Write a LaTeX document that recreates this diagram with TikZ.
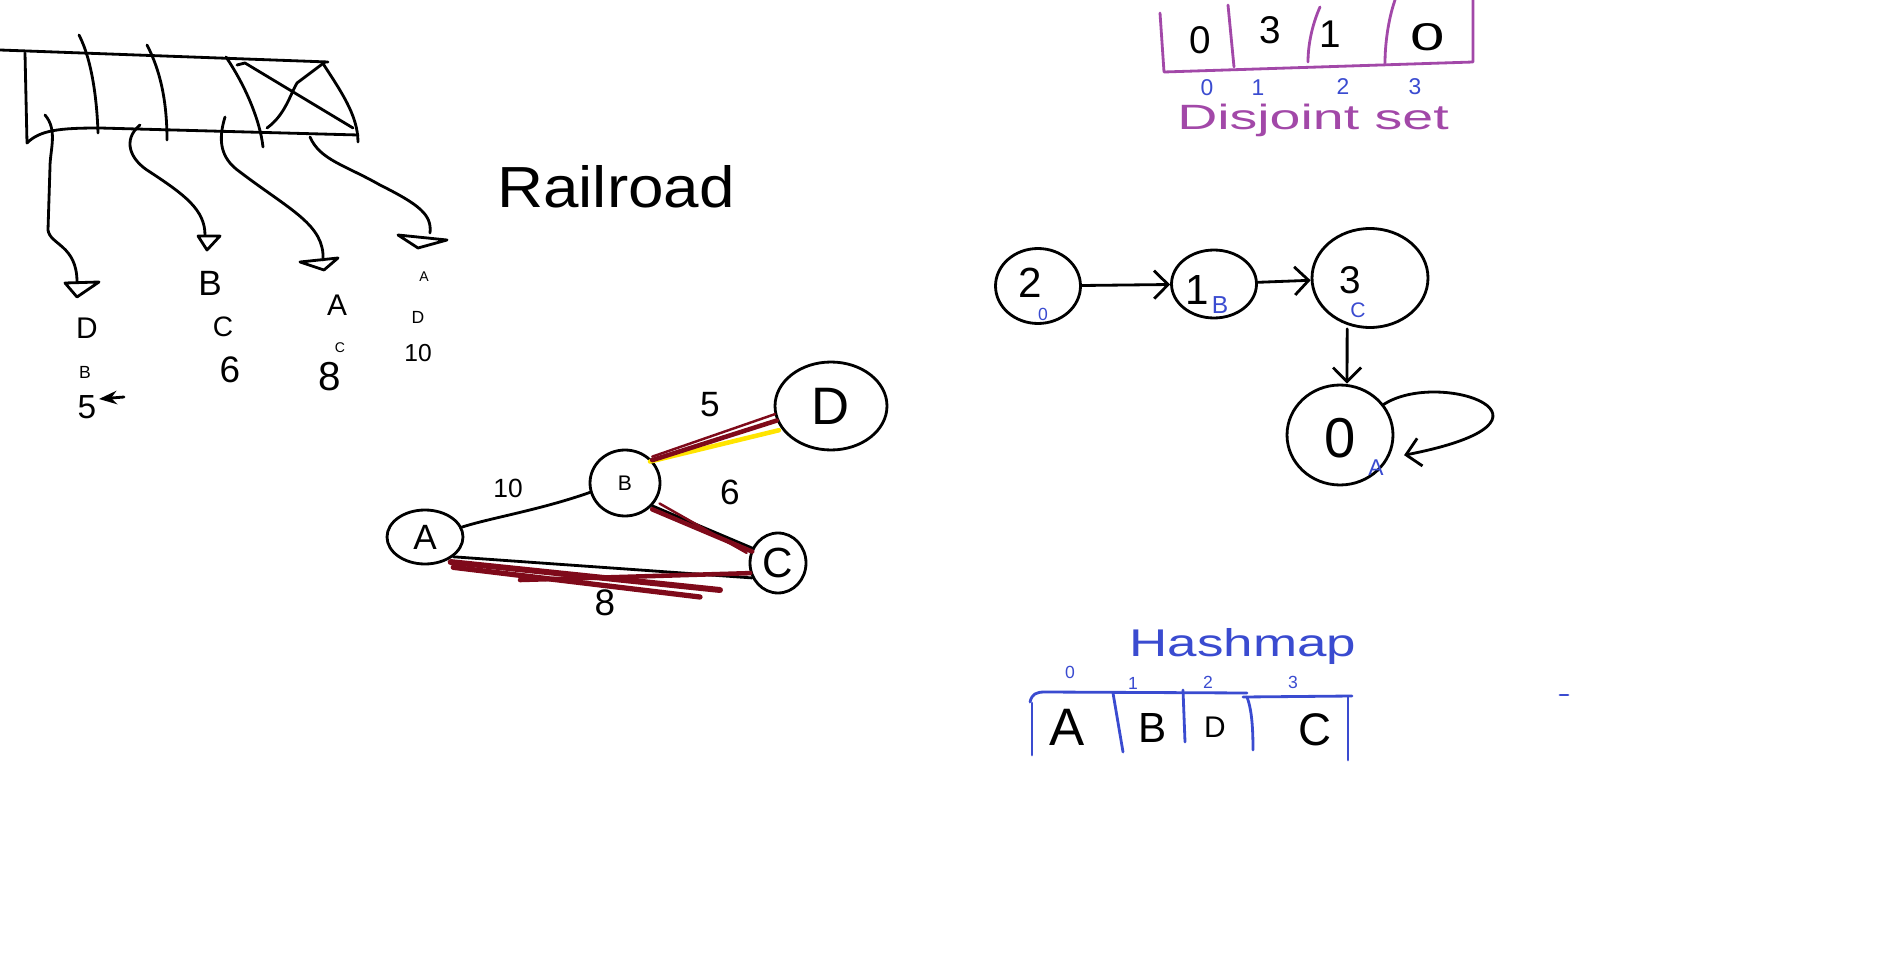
\documentclass[tikz,border=0pt]{standalone}
\usepackage{fontspec}
\setmainfont{Liberation Sans}
\usetikzlibrary{arrows.meta,shapes.geometric}
\definecolor{inkpurple}{RGB}{162,72,168}
\definecolor{inkblue}{RGB}{58,75,208}
\definecolor{inkred}{RGB}{127,10,26}
\definecolor{inkyellow}{RGB}{255,228,0}
\tikzset{
  every picture/.style={line join=round, line cap=round, >=Stealth},
  ink/.style={line width=1.6pt},
  blob/.style={draw, ellipse, ink, inner sep=0pt},
  lab/.style={inner sep=0pt},
  barb/.style={-{Straight Barb[length=8pt,width=16pt,line width=1.6pt]}},
  redband/.style={inkred, line width=2.6pt},
}
\newcommand{\fs}[1]{\fontsize{#1}{#1}\selectfont}
\begin{document}
\begin{tikzpicture}[x=0.02cm,y=-0.02cm,ink]
\useasboundingbox (0,0) rectangle (1893,956);

% train of cells
\draw (0,50) -- (328,62);
\draw (25,53) -- (27,143) .. controls (40,130) and (60,128) .. (100,128) -- (358,135);
\draw (79,35) .. controls (92,60) and (97,100) .. (98,133);
\draw (147,45) .. controls (160,70) and (167,100) .. (167,140);
\draw (226,57) .. controls (245,85) and (260,120) .. (263,147);
\draw (322,62) .. controls (340,90) and (358,115) .. (358,142);
\draw (237,65) -- (245,63) -- (353,128);
\draw (267,128) .. controls (285,115) and (290,95) .. (297,83) -- (325,62);

\draw (45,115) .. controls (58,130) and (50,150) .. (50,167) -- (48,230)
  .. controls (50,245) and (77,245) .. (77,282);
\draw (65,283) -- (99,282) -- (77,297) -- cycle;
\draw (140,125) .. controls (122,140) and (130,160) .. (150,172)
  .. controls (185,195) and (205,210) .. (205,235);
\draw (198,236) -- (220,236) -- (207,250) -- cycle;
\draw (225,117) .. controls (218,140) and (220,158) .. (240,172)
  .. controls (290,210) and (325,225) .. (323,260);
\draw (300,262) -- (338,258) -- (324,270) -- cycle;
\draw (310,137) .. controls (320,160) and (345,165) .. (380,185)
  .. controls (420,205) and (432,215) .. (430,233);
\draw (398,235) -- (447,240) -- (418,248) -- cycle;

\node[lab, font=\fs{17}] (c1a) at (87,328) {D};
\node[lab, font=\fs{10}] (c1b) at (85,372) {B};
\node[lab, font=\fs{19}] (c1c) at (87,407) {5};
\draw[->] (124,397) -- (99,399);
\node[lab, font=\fs{20}] (c2a) at (210,283) {B};
\node[lab, font=\fs{16}] (c2b) at (223,327) {C};
\node[lab, font=\fs{21}] (c2c) at (230,370) {6};
\node[lab, font=\fs{17}] (c3a) at (337,305) {A};
\node[lab, font=\fs{8}] (c3b) at (340,348) {C};
\node[lab, font=\fs{23}] (c3c) at (330,377) {8};
\node[lab, font=\fs{8}] (c4a) at (424,277) {A};
\node[lab, font=\fs{10}] (c4b) at (418,317) {D};
\node[lab, font=\fs{14}] (c4c) at (418,353) {10};

\node[lab, font=\fs{33}, xscale=1.1] (title) at (616,187) {Railroad};

% weighted graph
\node[blob, minimum width=1.52cm, minimum height=1.08cm, font=\fs{20}] (A) at (425,537) {A};
\node[blob, minimum width=1.4cm, minimum height=1.32cm, font=\fs{12}] (B) at (625,483) {B};
\node[blob, minimum width=1.12cm, minimum height=1.2cm, font=\fs{24}] (C) at (778,563) {C};
\node[blob, minimum width=2.24cm, minimum height=1.76cm, font=\fs{30}] (D) at (831,406) {D};

\draw (A.15) .. controls (490,518) and (540,510) .. (B.195);
\draw[inkyellow, line width=2.6pt] ([yshift=-2pt]B.45) -- ([yshift=-3pt]D.200);
\draw[redband] (B.40) -- (D.195);
\draw[redband, line width=1.4pt] ([yshift=2pt]B.40) -- ([yshift=1pt]D.190);
\draw (B.-40) -- (C.150);
\draw[redband] ([yshift=-2pt]B.-40) -- ([yshift=-2pt]C.150);
\draw[redband, line width=1.4pt] ([xshift=3pt]B.-35) -- ([xshift=-2pt]C.160);
\draw (A.-35) -- (C.-150);
\draw[redband, line width=3.4pt] ([yshift=-2pt]A.-40) -- (720,590);
\draw[redband, line width=3pt] ([yshift=-6pt]A.-35) -- (700,597);
\draw[redband] (520,580) -- (C.-160);

\node[lab, font=\fs{15}] (wAB) at (508,488) {10};
\node[lab, font=\fs{20}] (wBD) at (710,405) {5};
\node[lab, font=\fs{20}] (wBC) at (730,492) {6};
\node[lab, font=\fs{21}] (wAC) at (605,603) {8};

% disjoint set array
\begin{scope}[inkpurple]
\draw (1160,13) -- (1164,72) -- (1473,62) -- (1473,0);
\draw (1228,5) -- (1234,67);
\draw (1320,7) .. controls (1312,25) and (1308,45) .. (1308,62);
\draw (1395,0) .. controls (1388,20) and (1385,45) .. (1385,63);
\end{scope}
\node[lab, font=\fs{22}] (ds0) at (1200,40) {0};
\node[lab, font=\fs{22}] (ds1) at (1270,30) {3};
\node[lab, font=\fs{22}] (ds2) at (1330,34) {1};
\node[lab, font=\fs{22}, xscale=1.6] (ds3) at (1428,37) {0};
\begin{scope}[inkblue, font=\fs{13}]
\node[lab] (di0) at (1207,88) {0};
\node[lab] (di1) at (1258,88) {1};
\node[lab] (di2) at (1343,87) {2};
\node[lab] (di3) at (1415,87) {3};
\end{scope}
\node[lab, inkpurple, font=\fs{20}, xscale=1.58] (dstitle) at (1313,120) {Disjoint set};

% union find
\node[blob, minimum width=1.7cm, minimum height=1.5cm] (n2) at (1038,286) {};
\node[blob, minimum width=1.7cm, minimum height=1.36cm] (n1) at (1214,284) {};
\node[blob, minimum width=2.32cm, minimum height=1.98cm] (n3) at (1370,278) {};
\node[blob, minimum width=2.12cm, minimum height=2cm] (n0) at (1340,435) {};
\node[lab, font=\fs{24}] (t2) at (1030,283) {2};
\node[lab, font=\fs{24}] (t1) at (1197,290) {1};
\node[lab, font=\fs{22}] (t3) at (1350,280) {3};
\node[lab, font=\fs{32}] (t0) at (1340,438) {0};
\begin{scope}[inkblue]
\node[lab, font=\fs{10}] (s2) at (1043,314) {0};
\node[lab, font=\fs{14}] (s1) at (1220,305) {B};
\node[lab, font=\fs{12}] (s3) at (1358,310) {C};
\node[lab, font=\fs{13}] (s0) at (1376,468) {A};
\end{scope}
\draw[barb] (n2) -- (n1);
\draw[barb] (n1) -- (n3);
\draw[barb] ([xshift=-13pt]n3.south) -- ([xshift=4pt]n0.north);
\draw[barb] (n0.35) .. controls (1440,368) and (1585,420) .. ([xshift=8pt]n0.-22);

% hashmap
\begin{scope}[inkblue]
\draw (1030,702) .. controls (1032,694) and (1036,692) .. (1045,692) -- (1247,693);
\draw (1243,697) -- (1352,696);
\draw (1032,703) -- (1032,755);
\draw (1113,693) -- (1123,752);
\draw (1183,690) -- (1185,742);
\draw (1247,697) .. controls (1252,710) and (1253,730) .. (1253,750);
\draw (1348,697) -- (1348,760);
\draw (1560,695) -- (1568,695);
\node[lab, font=\fs{10}] (hi0) at (1070,672) {0};
\node[lab, font=\fs{10}] (hi1) at (1133,683) {1};
\node[lab, font=\fs{10}] (hi2) at (1208,682) {2};
\node[lab, font=\fs{10}] (hi3) at (1293,682) {3};
\node[lab, font=\fs{22}, xscale=1.37] (hmtitle) at (1243,647) {Hashmap};
\end{scope}
\node[lab, font=\fs{30}] (hA) at (1067,727) {A};
\node[lab, font=\fs{24}] (hB) at (1153,728) {B};
\node[lab, font=\fs{17}] (hD) at (1215,727) {D};
\node[lab, font=\fs{26}] (hC) at (1315,730) {C};
\end{tikzpicture}
\end{document}
